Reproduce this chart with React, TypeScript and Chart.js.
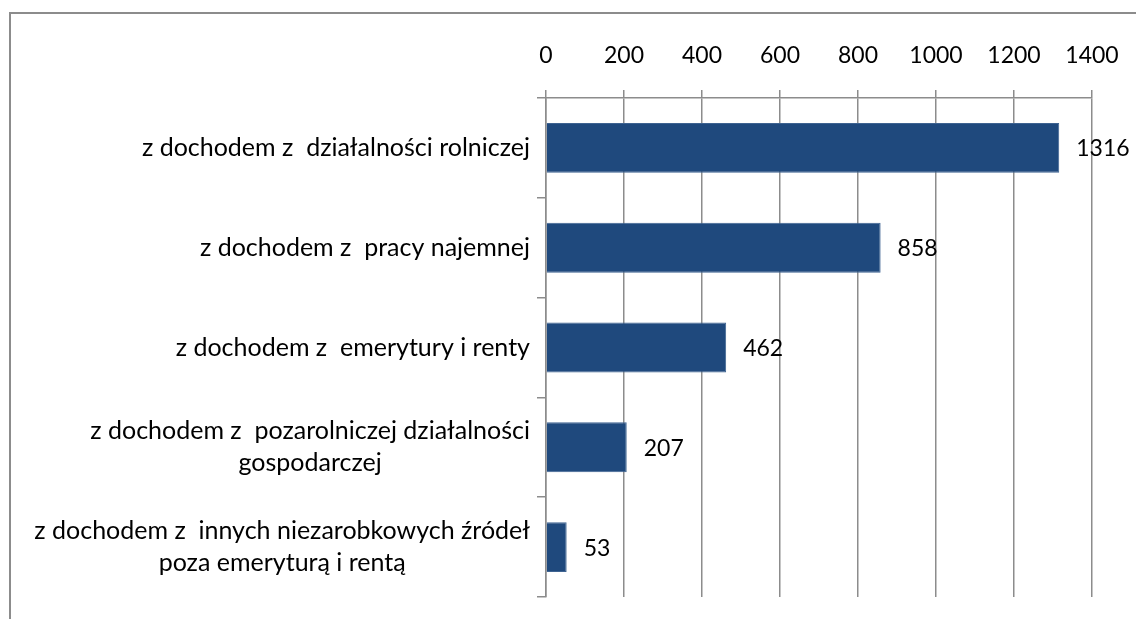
import React, { useEffect, useRef } from "react";
import { Chart, registerables } from "chart.js";
Chart.register(...registerables);

const categories: string[][] = [
  ["z dochodem z  działalności rolniczej"],
  ["z dochodem z  pracy najemnej"],
  ["z dochodem z  emerytury i renty"],
  ["z dochodem z  pozarolniczej działalności", "gospodarczej"],
  ["z dochodem z  innych niezarobkowych źródeł", "poza emeryturą i rentą"],
];
const values = [1316, 858, 462, 207, 53];
const xTickValues = [0, 200, 400, 600, 800, 1000, 1200, 1400];

const FONT = "Lato";
const LABEL_SIZE = 25;
const NUM_SIZE = 23;
const GRID = "#8c8c8c";
const BAR = "#1F497D";

export default function App() {
  const ref = useRef<HTMLCanvasElement | null>(null);
  useEffect(() => {
    const canvas = ref.current;
    if (!canvas) return;

    const framePlugin = {
      id: "frame",
      beforeDraw(chart: any) {
        const ctx = chart.ctx;
        ctx.save();
        ctx.fillStyle = "#ffffff";
        ctx.fillRect(0, 0, chart.width, chart.height);
        ctx.strokeStyle = "#8c8c8c";
        ctx.lineWidth = 2;
        ctx.beginPath();
        ctx.moveTo(10, chart.height + 5);
        ctx.lineTo(10, 13);
        ctx.lineTo(chart.width + 5, 13);
        ctx.stroke();
        ctx.restore();
      },
    };

    const labelPlugin = {
      id: "labels",
      afterDraw(chart: any) {
        const ctx = chart.ctx;
        const y = chart.scales.y;
        const x = chart.scales.x;
        ctx.save();
        ctx.fillStyle = "#000000";
        ctx.textBaseline = "middle";
        ctx.font = `${LABEL_SIZE}px ${FONT}`;
        categories.forEach((lines, i) => {
          const cy = y.getPixelForValue(i);
          const widest = Math.max(...lines.map((l) => ctx.measureText(l).width));
          const cx = chart.chartArea.left - 16 - widest / 2;
          ctx.textAlign = "center";
          const lh = 32;
          lines.forEach((l, j) => {
            ctx.fillText(l, cx, cy + (j - (lines.length - 1) / 2) * lh);
          });
        });
        ctx.font = `${NUM_SIZE}px ${FONT}`;
        const meta = chart.getDatasetMeta(0);
        ctx.textAlign = "left";
        meta.data.forEach((bar: any, i: number) => {
          ctx.fillText(String(values[i]), x.getPixelForValue(values[i]) + 17, bar.y + 1);
        });
        ctx.restore();
      },
    };

    const chart = new Chart(canvas, {
      type: "bar",
      data: {
        labels: categories.map((c) => c.join(" ")),
        datasets: [
          {
            data: values,
            backgroundColor: BAR,
            borderColor: "#3e6391",
            borderWidth: 1,
            barPercentage: 0.5,
            categoryPercentage: 1,
          },
        ],
      },
      options: {
        indexAxis: "y",
        animation: false,
        responsive: false,
        layout: { padding: { left: 10, right: 44, top: 0, bottom: 22 } },
        plugins: { legend: { display: false }, tooltip: { enabled: false } },
        scales: {
          x: {
            position: "top",
            min: 0,
            max: 1400,
            afterBuildTicks(scale: any) {
              scale.ticks = xTickValues.map((v) => ({ value: v }));
            },
            afterFit(scale: any) {
              scale.height = 98;
              scale.paddingLeft = 0;
              scale.paddingRight = 0;
            },
            ticks: {
              padding: 21,
              color: "#000000",
              font: { family: FONT, size: NUM_SIZE },
              callback: (v: any) => String(v),
            },
            grid: { color: GRID, lineWidth: 1.5, tickLength: 8 },
            border: { color: GRID, width: 1.5 },
          },
          y: {
            afterFit(scale: any) {
              scale.width = 536;
            },
            ticks: { display: false },
            grid: {
              drawOnChartArea: false,
              offset: true,
              color: GRID,
              lineWidth: 1.5,
              tickLength: 9,
            },
            border: { color: GRID, width: 1.5 },
          },
        },
      },
      plugins: [framePlugin, labelPlugin],
    });
    return () => chart.destroy();
  }, []);

  return (
    <div style={{ position: "fixed", left: 0, top: 0, width: 1136, height: 619, background: "#fff" }}>
      <canvas ref={ref} width={1136} height={619} style={{ display: "block" }} />
    </div>
  );
}
